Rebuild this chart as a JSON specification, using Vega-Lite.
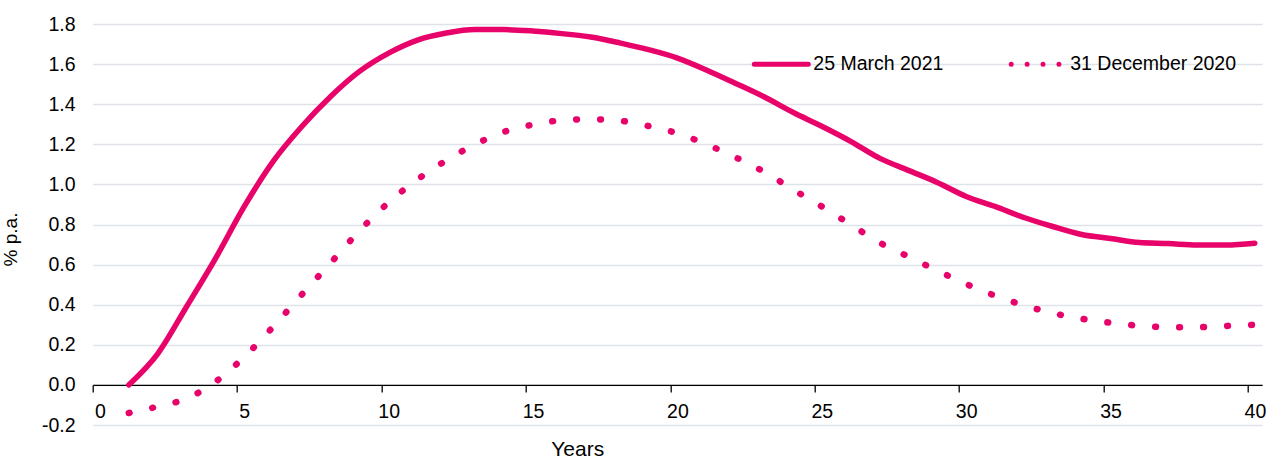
{
  "$schema": "https://vega.github.io/schema/vega-lite/v6.json",
  "autosize": "none",
  "width": 1169.4,
  "height": 401,
  "padding": {"left": 92.7, "top": 24, "right": 14.9, "bottom": 34},
  "background": "white",
  "config": {
    "view": {"stroke": null},
    "font": "Liberation Sans",
    "axis": {"labelFont": "Liberation Sans", "titleFont": "Liberation Sans", "labelColor": "#000", "titleColor": "#000", "titleFontWeight": "normal"}
  },
  "data": {
    "values": [
      {"year": 1, "series": "25 March 2021", "rate": 0.0},
      {"year": 2, "series": "25 March 2021", "rate": 0.155},
      {"year": 3, "series": "25 March 2021", "rate": 0.39},
      {"year": 4, "series": "25 March 2021", "rate": 0.63},
      {"year": 5, "series": "25 March 2021", "rate": 0.89},
      {"year": 6, "series": "25 March 2021", "rate": 1.115},
      {"year": 7, "series": "25 March 2021", "rate": 1.29},
      {"year": 8, "series": "25 March 2021", "rate": 1.44},
      {"year": 9, "series": "25 March 2021", "rate": 1.565},
      {"year": 10, "series": "25 March 2021", "rate": 1.655},
      {"year": 11, "series": "25 March 2021", "rate": 1.72},
      {"year": 12, "series": "25 March 2021", "rate": 1.755},
      {"year": 13, "series": "25 March 2021", "rate": 1.772},
      {"year": 14, "series": "25 March 2021", "rate": 1.772},
      {"year": 15, "series": "25 March 2021", "rate": 1.765},
      {"year": 16, "series": "25 March 2021", "rate": 1.752},
      {"year": 17, "series": "25 March 2021", "rate": 1.735},
      {"year": 18, "series": "25 March 2021", "rate": 1.706},
      {"year": 19, "series": "25 March 2021", "rate": 1.672},
      {"year": 20, "series": "25 March 2021", "rate": 1.63},
      {"year": 21, "series": "25 March 2021", "rate": 1.571},
      {"year": 22, "series": "25 March 2021", "rate": 1.505},
      {"year": 23, "series": "25 March 2021", "rate": 1.437},
      {"year": 24, "series": "25 March 2021", "rate": 1.36},
      {"year": 25, "series": "25 March 2021", "rate": 1.29},
      {"year": 26, "series": "25 March 2021", "rate": 1.215},
      {"year": 27, "series": "25 March 2021", "rate": 1.131},
      {"year": 28, "series": "25 March 2021", "rate": 1.07},
      {"year": 29, "series": "25 March 2021", "rate": 1.01},
      {"year": 30, "series": "25 March 2021", "rate": 0.94},
      {"year": 31, "series": "25 March 2021", "rate": 0.89},
      {"year": 32, "series": "25 March 2021", "rate": 0.835},
      {"year": 33, "series": "25 March 2021", "rate": 0.79},
      {"year": 34, "series": "25 March 2021", "rate": 0.75},
      {"year": 35, "series": "25 March 2021", "rate": 0.73},
      {"year": 36, "series": "25 March 2021", "rate": 0.71},
      {"year": 37, "series": "25 March 2021", "rate": 0.705},
      {"year": 38, "series": "25 March 2021", "rate": 0.698},
      {"year": 39, "series": "25 March 2021", "rate": 0.698},
      {"year": 40, "series": "25 March 2021", "rate": 0.707},
      {"year": 1, "series": "31 December 2020", "rate": -0.14},
      {"year": 2, "series": "31 December 2020", "rate": -0.108},
      {"year": 3, "series": "31 December 2020", "rate": -0.068},
      {"year": 4, "series": "31 December 2020", "rate": 0.015},
      {"year": 5, "series": "31 December 2020", "rate": 0.14},
      {"year": 6, "series": "31 December 2020", "rate": 0.29},
      {"year": 7, "series": "31 December 2020", "rate": 0.452},
      {"year": 8, "series": "31 December 2020", "rate": 0.61},
      {"year": 9, "series": "31 December 2020", "rate": 0.77},
      {"year": 10, "series": "31 December 2020", "rate": 0.91},
      {"year": 11, "series": "31 December 2020", "rate": 1.025},
      {"year": 12, "series": "31 December 2020", "rate": 1.12},
      {"year": 13, "series": "31 December 2020", "rate": 1.2},
      {"year": 14, "series": "31 December 2020", "rate": 1.262},
      {"year": 15, "series": "31 December 2020", "rate": 1.298},
      {"year": 16, "series": "31 December 2020", "rate": 1.32},
      {"year": 17, "series": "31 December 2020", "rate": 1.325},
      {"year": 18, "series": "31 December 2020", "rate": 1.318},
      {"year": 19, "series": "31 December 2020", "rate": 1.291},
      {"year": 20, "series": "31 December 2020", "rate": 1.255},
      {"year": 21, "series": "31 December 2020", "rate": 1.2},
      {"year": 22, "series": "31 December 2020", "rate": 1.136},
      {"year": 23, "series": "31 December 2020", "rate": 1.063},
      {"year": 24, "series": "31 December 2020", "rate": 0.975},
      {"year": 25, "series": "31 December 2020", "rate": 0.89},
      {"year": 26, "series": "31 December 2020", "rate": 0.8},
      {"year": 27, "series": "31 December 2020", "rate": 0.71},
      {"year": 28, "series": "31 December 2020", "rate": 0.64},
      {"year": 29, "series": "31 December 2020", "rate": 0.57},
      {"year": 30, "series": "31 December 2020", "rate": 0.503},
      {"year": 31, "series": "31 December 2020", "rate": 0.445},
      {"year": 32, "series": "31 December 2020", "rate": 0.397},
      {"year": 33, "series": "31 December 2020", "rate": 0.358},
      {"year": 34, "series": "31 December 2020", "rate": 0.33},
      {"year": 35, "series": "31 December 2020", "rate": 0.31},
      {"year": 36, "series": "31 December 2020", "rate": 0.295},
      {"year": 37, "series": "31 December 2020", "rate": 0.288},
      {"year": 38, "series": "31 December 2020", "rate": 0.288},
      {"year": 39, "series": "31 December 2020", "rate": 0.294},
      {"year": 40, "series": "31 December 2020", "rate": 0.3}
    ]
  },
  "encoding": {
    "x": {
      "field": "year", "type": "quantitative",
      "scale": {"domain": [-0.25, 40.25], "nice": false, "zero": false},
      "axis": {
        "values": [0, 5, 10, 15, 20, 25, 30, 35, 40],
        "offset": -40.1,
        "grid": false,
        "domainColor": "#000", "domainWidth": 1.3,
        "tickColor": "#000", "tickWidth": 1.3, "tickSize": 7,
        "tickOffset": -7.2, "labelOffset": 7.2,
        "labelFontSize": 19.5, "labelPadding": 11, "labelBaseline": "top",
        "labelFlush": false, "labelOverlap": false,
        "title": "Years", "titleFontSize": 21,
        "titleX": 484.5, "titleY": 71, "titleBaseline": "alphabetic", "titleAlign": "center", "titleAnchor": null
      }
    },
    "y": {
      "field": "rate", "type": "quantitative",
      "scale": {"domain": [-0.2, 1.8], "nice": false, "zero": false},
      "axis": {
        "values": [-0.2, 0, 0.2, 0.4, 0.6, 0.8, 1.0, 1.2, 1.4, 1.6, 1.8],
        "labelExpr": "replace(format(datum.value, '.1f'), '\u2212', '-')",
        "domain": false, "ticks": false, "tickSize": 0,
        "grid": true, "gridColor": "#DFE3E7", "gridWidth": 1.5,
        "labelFontSize": 19.5, "labelPadding": 17.7,
        "title": "% p.a.", "titleFontSize": 19,
        "titleX": -82, "titleY": 215, "titleBaseline": "middle", "titleAlign": "center", "titleAngle": -90, "titleAnchor": null
      }
    },
    "color": {
      "field": "series", "type": "nominal",
      "scale": {"domain": ["25 March 2021", "31 December 2020"], "range": ["#E8036A", "#E8036A"]},
      "legend": {
        "title": null,
        "orient": "none",
        "legendX": 659.1,
        "legendY": 10.4,
        "direction": "horizontal",
        "padding": 0,
        "symbolType": "stroke",
        "symbolSize": 2916,
        "symbolStrokeWidth": 5,
        "labelFontSize": 19.5,
        "labelFont": "Liberation Sans",
        "labelColor": "#000",
        "labelLimit": 400,
        "labelOffset": 2.5,
        "columnPadding": 56.9,
        "encode": {
          "symbols": {
            "update": {
              "strokeCap": {"value": "round"},
              "strokeDash": {"signal": "datum.value === '31 December 2020' ? [0.01, 15.9] : [1, 0]"}
            }
          }
        }
      }
    }
  },
  "layer": [
    {
      "transform": [{"filter": "datum.series === '25 March 2021'"}],
      "mark": {"type": "line", "strokeWidth": 5.5, "strokeCap": "round", "strokeJoin": "round", "interpolate": "monotone", "clip": false}
    },
    {
      "transform": [{"filter": "datum.series === '31 December 2020'"}],
      "mark": {"type": "line", "strokeWidth": 6.5, "strokeCap": "round", "strokeJoin": "round", "strokeDash": [0.8, 23.2], "interpolate": "monotone", "clip": false}
    }
  ]
}
